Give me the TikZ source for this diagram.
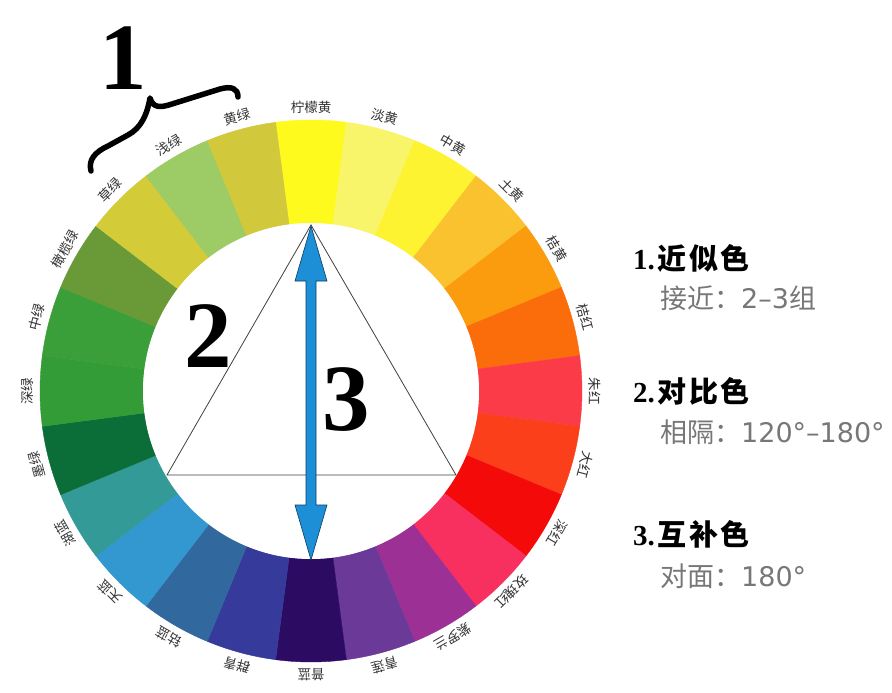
\documentclass[tikz,border=0pt]{standalone}
\usepackage{fontspec}
\setmainfont{Liberation Serif}
\newfontfamily\cjk{Noto Sans CJK SC}
\newfontfamily\dejavu{DejaVu Sans}
\usetikzlibrary{calc}
\definecolor{c0}{HTML}{FFFA1E}
\definecolor{c1}{HTML}{F9F56A}
\definecolor{c2}{HTML}{FDF331}
\definecolor{c3}{HTML}{FBC22F}
\definecolor{c4}{HTML}{FB9C0F}
\definecolor{c5}{HTML}{FB6D0B}
\definecolor{c6}{HTML}{FB3B47}
\definecolor{c7}{HTML}{FC3F1B}
\definecolor{c8}{HTML}{F50A0A}
\definecolor{c9}{HTML}{F7305F}
\definecolor{c10}{HTML}{9D3094}
\definecolor{c11}{HTML}{6B3A98}
\definecolor{c12}{HTML}{2C0B63}
\definecolor{c13}{HTML}{363A9A}
\definecolor{c14}{HTML}{31689E}
\definecolor{c15}{HTML}{3398D0}
\definecolor{c16}{HTML}{339A98}
\definecolor{c17}{HTML}{0B6D38}
\definecolor{c18}{HTML}{349C36}
\definecolor{c19}{HTML}{3A9F38}
\definecolor{c20}{HTML}{6A9A38}
\definecolor{c21}{HTML}{D3CC38}
\definecolor{c22}{HTML}{9DCB66}
\definecolor{c23}{HTML}{D1C83B}
\definecolor{arrowblue}{HTML}{1C8FD6}
\definecolor{arrowedge}{HTML}{0D3B66}
\definecolor{subgray}{HTML}{777777}
\definecolor{lblgray}{HTML}{333333}
\newcommand{\hsp}{\hspace{2.5pt}}
\begin{document}
\begin{tikzpicture}[x=1pt,y=1pt,
  lbl/.style={font=\cjk\fontsize{13.5}{13.5}\selectfont, text=lblgray, inner sep=0pt},
  bignum/.style={font=\bfseries\fontsize{95}{95}\selectfont, inner sep=0pt, anchor=base},
  heading/.style={font=\fontsize{29}{29}\selectfont, inner sep=0pt, anchor=base west},
  subtitle/.style={font=\cjk\fontsize{27}{27}\selectfont, text=subgray, inner sep=0pt, anchor=base west},
  triline/.style={draw=black!75, line width=0.8pt},
  bracestyle/.style={draw=black, line width=5.5pt, line cap=round, line join=round}]
\useasboundingbox[fill=white] (0,-693) rectangle (892,0);
\coordinate (C) at (311,-391);
\begin{scope}[shift={(C)}]
\foreach \i/\nm in {0/柠檬黄,1/淡黄,2/中黄,3/土黄,4/桔黄,5/桔红,6/朱红,7/大红,8/深红,9/玫瑰红,10/紫罗兰,11/青莲,12/普蓝,13/群青,14/钴蓝,15/天蓝,16/湖蓝,17/墨绿,18/深绿,19/中绿,20/橄榄绿,21/草绿,22/浅绿,23/黄绿} {
  \pgfmathsetmacro\a{90-15*\i}
  \pgfmathsetmacro\aa{\a-7.5}
  \pgfmathsetmacro\ab{\a+7.5}
  \pgfmathsetmacro\rot{\a-90}
  \fill[c\i, draw=c\i, line width=0.4pt] (\aa:168) arc[start angle=\aa, end angle=\ab, radius=168] -- (\ab:271) arc[start angle=\ab, end angle=\aa, radius=271] -- cycle;
  \node[lbl, rotate=\rot] (L\i) at (\a:284) {\nm};
}
\fill[white] (0,0) circle (168);
\end{scope}
% triangle
\coordinate (T1) at (311,-225);
\coordinate (T2) at (167,-475);
\coordinate (T3) at (456,-475);
\draw[triline] (T1) -- (T2) -- (T3) -- cycle;
% double arrow
\coordinate (AT) at (311,-226);
\coordinate (AB) at (311,-560);
\filldraw[fill=arrowblue, draw=arrowedge, line width=0.6pt]
  (AT) -- ($(AT)+(16,-55)$) -- ($(AT)+(5,-55)$) -- ($(AB)+(5,55)$) -- ($(AB)+(16,55)$) -- (AB)
  -- ($(AB)+(-16,55)$) -- ($(AB)+(-5,55)$) -- ($(AT)+(-5,-55)$) -- ($(AT)+(-16,-55)$) -- cycle;
% big numbers
\node[bignum] (n2) at (208,-367) {2};
\node[bignum] (n3) at (346,-430) {3};
\node[bignum] (n1) at (123,-90) {1};
% brace
\coordinate (B1) at (91,-171);
\coordinate (Bt) at (150,-98);
\coordinate (B2) at (238,-97);
\draw[bracestyle] (B1) .. controls (88,-160) and (95,-152) .. (108,-146) -- (128,-135)
  .. controls (141,-128) and (147,-115) .. (Bt)
  .. controls (153,-108) and (160,-108) .. (172,-104) -- (220,-89)
  .. controls (231,-86) and (238,-88) .. (B2);
% legend
\node[heading] (h1) at (633,-269) {\textbf{1.}\hspace{3pt}{\cjk\bfseries 近\hsp 似\hsp 色}};
\node[subtitle] (s1) at (660,-308) {接近：{\dejavu 2–3}组};
\node[heading] (h2) at (633,-402) {\textbf{2.}\hspace{3pt}{\cjk\bfseries 对\hsp 比\hsp 色}};
\node[subtitle] (s2) at (660,-442) {相隔：{\dejavu 120°–180°}};
\node[heading] (h3) at (633,-545) {\textbf{3.}\hspace{3pt}{\cjk\bfseries 互\hsp 补\hsp 色}};
\node[subtitle] (s3) at (660,-586) {对面：{\dejavu 180°}};
\end{tikzpicture}
\end{document}
